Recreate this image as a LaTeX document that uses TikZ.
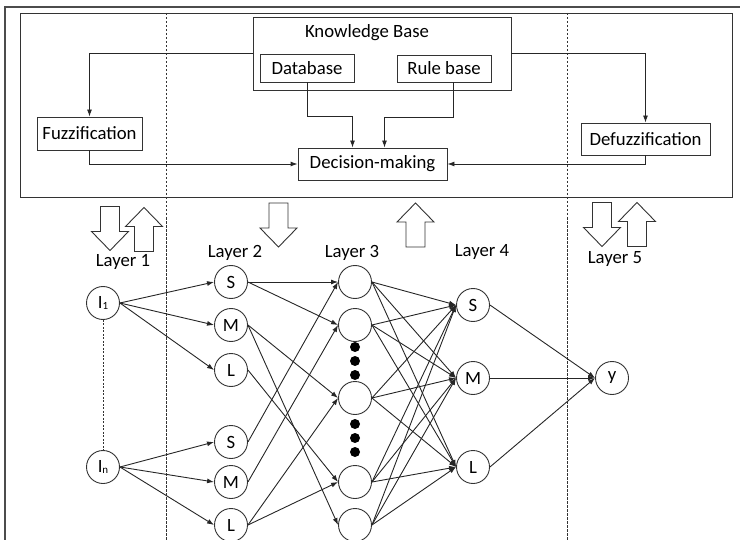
\documentclass[tikz,border=0pt]{standalone}
\usepackage{fontspec}
\setmainfont{Carlito}
\usetikzlibrary{arrows.meta}

\begin{document}
\begin{tikzpicture}[x=1bp,y=-1bp,line width=0.9bp,
	font=\fontsize{18.8}{22}\selectfont,
	box/.style={draw=black!80,rectangle,inner sep=0pt},
	neuron/.style={draw=black!80,circle,minimum size=33bp,inner sep=0pt},
	arr/.style={draw=black!85,-{Latex[length=7bp,width=5bp]}},
	sep/.style={draw=black!80,line width=0.8bp,dash pattern=on 2.5bp off 1.5bp},
	blockdn/.pic={\draw[black!80] (-9.5,-22) -- (9.5,-22) -- (9.5,3) -- (18.5,3) -- (0,22) -- (-18.5,3) -- (-9.5,3) -- cycle;},
	blockup/.pic={\draw[black!80] (-9.5,22) -- (9.5,22) -- (9.5,-3) -- (18.5,-3) -- (0,-22) -- (-18.5,-3) -- (-9.5,-3) -- cycle;}]
	\useasboundingbox (0,0) rectangle (740,540);
	%\draw[help lines] (0,0) grid (740,540);
	
	%FRAMES
	\draw[black!70,line width=1.3bp] (740,7) -- (5,7) -- (5,540);
	\draw[black!80] (20,13) rectangle (732,197);
	\draw[sep] (166,13) -- (166,540);
	\draw[sep] (567,13) -- (567,540);
	
	%FUZZY INFERENCE PART
	\node[box,minimum width=258bp,minimum height=73bp] (kb) at (382,53.5) {};
	\node (kbt) at (367,33) {Knowledge Base};
	\node[box,minimum width=94bp,minimum height=28bp] (db) at (307,68) {Database};
	\node[box,minimum width=94bp,minimum height=27bp] (rb) at (444,68.5) {Rule base};
	\node[box,minimum width=105bp,minimum height=33bp] (fuz) at (89.5,133.5) {Fuzzification};
	\node[box,minimum width=149bp,minimum height=32bp] (dm) at (372.5,164) {Decision-making};
	\node[box,minimum width=129bp,minimum height=32bp] (defuz) at (645.5,139) {Defuzzification};
	
	\draw[arr] (kb.west) -| (fuz.north);
	\draw[arr] (kb.east) -| (defuz.north);
	\draw[arr] (fuz.south) |- (dm.west);
	\draw[arr] (defuz.south) |- (dm.east);
	\draw[arr] (db.south) -- ++(0,34) -| ([xshift=-20bp]dm.north);
	\draw[arr] ([xshift=9bp]rb.south) -- ++(0,35) -| ([xshift=12bp]dm.north);
	
	%BLOCK ARROWS
	\pic at (110,228.5) {blockdn};
	\pic at (144,229.5) {blockup};
	\pic at (278.5,225) {blockdn};
	\pic at (415.5,225) {blockup};
	\pic at (602,224.5) {blockdn};
	\pic at (637,224.5) {blockup};
	
	%LAYER LABELS
	\node (lay1) at (123,262) {Layer 1};
	\node (lay2) at (235,253) {Layer 2};
	\node (lay3) at (352,253) {Layer 3};
	\node (lay4) at (482,252) {Layer 4};
	\node (lay5) at (615,259) {Layer 5};
	
	%NETWORK
	\node[neuron] (i1) at (103,303) {I\raisebox{-1bp}{\fontsize{11}{11}\selectfont 1}};
	\node[neuron] (in) at (103,467) {I\raisebox{-1bp}{\fontsize{11}{11}\selectfont n}};
	\draw[draw=black!80,line width=0.7bp,dash pattern=on 2bp off 1.5bp] (i1) -- (in);
	
	\node[neuron] (sa) at (231,282) {S};
	\node[neuron] (ma) at (231,325) {M};
	\node[neuron] (la) at (231,370) {L};
	\node[neuron] (sb) at (231,442) {S};
	\node[neuron] (mb) at (231,482) {M};
	\node[neuron] (lb) at (231,525) {L};
	
	\foreach \n/\y in {1/282,2/325,3/398,4/482,5/525}
		\node[neuron] (h\n) at (355,\y) {};
	\foreach \y in {347,361,375,424,438,452}
		\fill (355,\y) circle (5bp);
	
	\node[neuron] (s4) at (473,305) {S};
	\node[neuron] (m4) at (473,378) {M};
	\node[neuron] (l4) at (473,467) {L};
	\node[neuron] (out) at (612,378) {y};
	
	\foreach \b in {sa,ma,la} \draw[arr] (i1.east) -- (\b.west);
	\foreach \b in {sb,mb,lb} \draw[arr] (in.east) -- (\b.west);
	\foreach \a/\b in {sa/h1,sa/h2,ma/h3,ma/h5,la/h4,sb/h1,mb/h2,lb/h3,lb/h4}
		\draw[arr] (\a.east) -- (\b.west);
	\foreach \n in {1,...,5}
		\foreach \b in {s4,m4,l4}
			\draw[arr] (h\n.east) -- (\b.west);
	\foreach \a in {s4,m4,l4} \draw[arr] (\a.east) -- (out.west);
	
\end{tikzpicture}
\end{document}
